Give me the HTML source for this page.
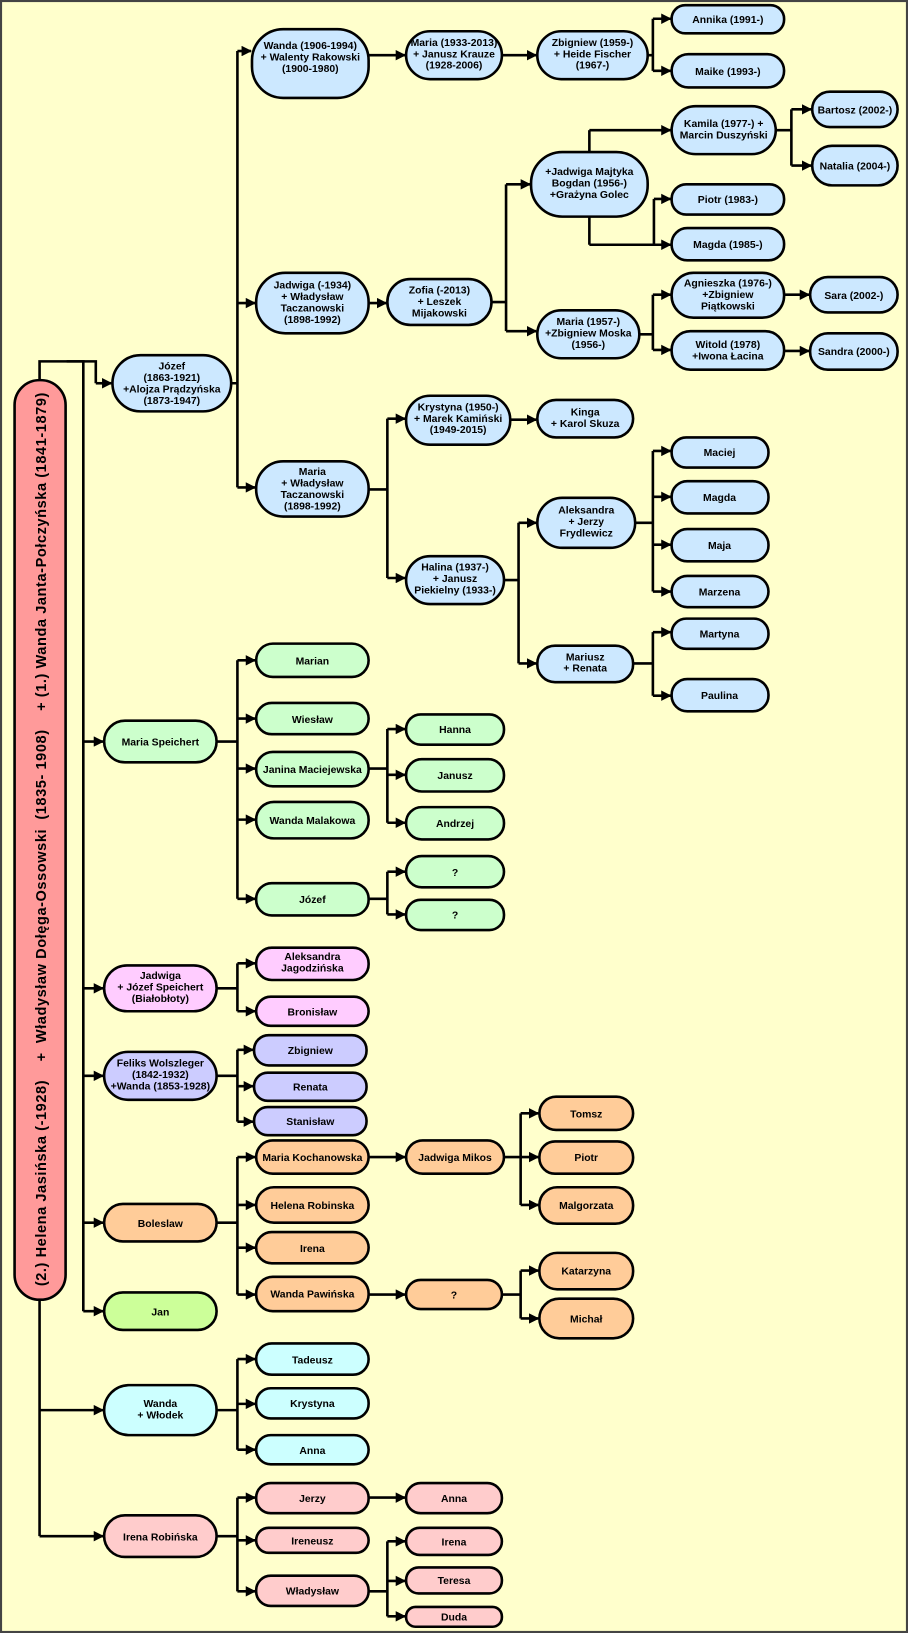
<!DOCTYPE html>
<html><head><meta charset="utf-8"><style>
html,body{margin:0;padding:0;background:#fff}
svg{display:block}
text{font-family:"Liberation Sans",Arial,sans-serif;font-weight:bold;font-size:10px;text-anchor:middle;fill:#000}
.n{stroke:#000;stroke-width:2.5}
.c{fill:none;stroke:#000;stroke-width:2.5}
.a{fill:none;stroke:#000;stroke-width:2.5;marker-end:url(#ar)}
.b{fill:#cce8ff}.g{fill:#ccffcc}.p{fill:#ffccff}.v{fill:#ccccff}.o{fill:#ffcc99}.l{fill:#ccff99}.cy{fill:#ccffff}.r{fill:#ffcccc}
</style></head><body>
<svg width="908" height="1633" viewBox="0 0 872 1568" preserveAspectRatio="none" xmlns="http://www.w3.org/2000/svg">
<defs><marker id="ar" markerUnits="userSpaceOnUse" markerWidth="10" markerHeight="10" refX="9" refY="5" orient="auto"><path d="M0,0 L10,5 L0,10 z" fill="#000"/></marker></defs>
<rect x="1" y="1" width="870" height="1566" fill="#ffffcc" stroke="#444" stroke-width="2"/>

<path class="c" d="M38,365 V347 H92 V368"/><path class="a" d="M92,368 H107"/>
<path class="c" d="M64,347 H80 V1259"/>
<path class="a" d="M80,712 H99"/><path class="a" d="M80,949 H99"/><path class="a" d="M80,1033 H99"/><path class="a" d="M80,1174 H99"/><path class="a" d="M80,1259 H99"/>
<path class="c" d="M38,1248 V1475"/><path class="a" d="M38,1354 H99"/><path class="a" d="M38,1475 H99"/>

<path class="c" d="M222,368 H228 M228,49 V468"/>
<path class="a" d="M228,49 H241"/><path class="a" d="M228,291 H245"/><path class="a" d="M228,468 H245"/>
<path class="a" d="M354,53 H389"/><path class="a" d="M482,53 H515"/>
<path class="c" d="M622,53 H627 M627,18 V68"/><path class="a" d="M627,18 H644"/><path class="a" d="M627,68 H644"/>
<path class="a" d="M354,291 H371"/>
<path class="c" d="M472,290 H486 M486,177 V318"/><path class="a" d="M486,177 H509"/><path class="a" d="M486,318 H515"/>
<path class="c" d="M566,146 V125"/><path class="a" d="M566,125 H644"/>
<path class="c" d="M745,125 H760 M760,105 V159"/><path class="a" d="M760,105 H779"/><path class="a" d="M760,159 H779"/>
<path class="c" d="M566,208 V235"/><path class="a" d="M566,235 H644"/>
<path class="c" d="M628,235 V191"/><path class="a" d="M628,191 H644"/>
<path class="c" d="M614,321 H627 M627,283 V336"/><path class="a" d="M627,283 H644"/><path class="a" d="M627,336 H644"/>
<path class="a" d="M753,283 H777"/><path class="a" d="M753,337 H777"/>
<path class="c" d="M354,470 H372 M372,402 V555"/><path class="a" d="M372,402 H389"/><path class="a" d="M372,555 H389"/>
<path class="a" d="M490,403 H515"/>
<path class="c" d="M484,557 H498 M498,502 V637"/><path class="a" d="M498,502 H515"/><path class="a" d="M498,637 H515"/>
<path class="c" d="M610,502 H627 M627,433 V568"/><path class="a" d="M627,433 H644"/><path class="a" d="M627,477 H644"/><path class="a" d="M627,523 H644"/><path class="a" d="M627,568 H644"/>
<path class="c" d="M608,637 H627 M627,607 V668"/><path class="a" d="M627,607 H644"/><path class="a" d="M627,668 H644"/>

<path class="c" d="M208,712 H228 M228,634 V863"/>
<path class="a" d="M228,634 H245"/><path class="a" d="M228,690 H245"/><path class="a" d="M228,738 H245"/><path class="a" d="M228,787 H245"/><path class="a" d="M228,863 H245"/>
<path class="c" d="M354,738 H372 M372,700 V790"/><path class="a" d="M372,700 H389"/><path class="a" d="M372,744 H389"/><path class="a" d="M372,790 H389"/>
<path class="c" d="M354,863 H372 M372,837 V878"/><path class="a" d="M372,837 H389"/><path class="a" d="M372,878 H389"/>

<path class="c" d="M208,949 H228 M228,925 V971"/><path class="a" d="M228,925 H245"/><path class="a" d="M228,971 H245"/>
<path class="c" d="M208,1033 H228 M228,1008 V1077"/><path class="a" d="M228,1008 H243"/><path class="a" d="M228,1043 H243"/><path class="a" d="M228,1077 H243"/>
<path class="c" d="M208,1174 H228 M228,1111 V1243"/><path class="a" d="M228,1111 H245"/><path class="a" d="M228,1157 H245"/><path class="a" d="M228,1198 H245"/><path class="a" d="M228,1243 H245"/>
<path class="a" d="M354,1111 H389"/>
<path class="c" d="M484,1111 H500 M500,1069 V1157"/><path class="a" d="M500,1069 H517"/><path class="a" d="M500,1111 H517"/><path class="a" d="M500,1157 H517"/>
<path class="a" d="M354,1243 H389"/>
<path class="c" d="M482,1243 H500 M500,1220 V1266"/><path class="a" d="M500,1220 H517"/><path class="a" d="M500,1266 H517"/>
<path class="c" d="M208,1354 H228 M228,1305 V1392"/><path class="a" d="M228,1305 H245"/><path class="a" d="M228,1348 H245"/><path class="a" d="M228,1392 H245"/>
<path class="c" d="M208,1475 H228 M228,1438 V1528"/><path class="a" d="M228,1438 H245"/><path class="a" d="M228,1479 H245"/><path class="a" d="M228,1528 H245"/>
<path class="a" d="M354,1438 H389"/>
<path class="c" d="M354,1528 H372 M372,1480 V1552"/><path class="a" d="M372,1480 H389"/><path class="a" d="M372,1518 H389"/><path class="a" d="M372,1552 H389"/>

<rect class="n" x="14" y="365" width="49" height="883" rx="24" fill="#ff9a9a"/>
<text transform="translate(44,806) rotate(-90)" style="font-size:14px" xml:space="preserve" textLength="858" lengthAdjust="spacing">(2.) Helena Jasińska (-1928)    +  Władysław Dołęga-Ossowski  (1835- 1908)    + (1.) Wanda Janta-Połczyńska (1841-1879)</text>

<rect class="n b" x="108" y="341" width="114" height="54" rx="27"/><text x="165" y="355">Józef<tspan x="165" dy="11">(1863-1921)</tspan><tspan x="165" dy="11">+Alojza Prądzyńska</tspan><tspan x="165" dy="11">(1873-1947)</tspan></text>
<rect class="n g" x="100" y="692" width="108" height="40" rx="20"/><text x="154" y="716">Maria Speichert</text>
<rect class="n p" x="100" y="927" width="108" height="44" rx="22"/><text x="154" y="940">Jadwiga<tspan x="154" dy="11">+ Józef Speichert</tspan><tspan x="154" dy="11">(Białobłoty)</tspan></text>
<rect class="n v" x="100" y="1010" width="108" height="46" rx="23"/><text x="154" y="1024">Feliks Wolszleger<tspan x="154" dy="11">(1842-1932)</tspan><tspan x="154" dy="11">+Wanda (1853-1928)</tspan></text>
<rect class="n o" x="100" y="1156" width="108" height="36" rx="18"/><text x="154" y="1178">Boleslaw</text>
<rect class="n l" x="100" y="1241" width="108" height="36" rx="18"/><text x="154" y="1263">Jan</text>
<rect class="n cy" x="100" y="1330" width="108" height="48" rx="24"/><text x="154" y="1351">Wanda<tspan x="154" dy="11">+ Włodek</tspan></text>
<rect class="n r" x="100" y="1455" width="108" height="40" rx="20"/><text x="154" y="1479">Irena Robińska</text>

<rect class="n b" x="242" y="28" width="112" height="66" rx="30"/><text x="298" y="47">Wanda (1906-1994)<tspan x="298" dy="11">+ Walenty Rakowski</tspan><tspan x="298" dy="11">(1900-1980)</tspan></text>
<rect class="n b" x="246" y="262" width="108" height="58" rx="28"/><text x="300" y="277">Jadwiga (-1934)<tspan x="300" dy="11">+ Władysław</tspan><tspan x="300" dy="11">Taczanowski</tspan><tspan x="300" dy="11">(1898-1992)</tspan></text>
<rect class="n b" x="246" y="443" width="108" height="53" rx="26"/><text x="300" y="456">Maria<tspan x="300" dy="11">+ Władysław</tspan><tspan x="300" dy="11">Taczanowski</tspan><tspan x="300" dy="11">(1898-1992)</tspan></text>
<rect class="n b" x="390" y="30" width="92" height="46" rx="23"/><text x="436" y="44">Maria (1933-2013)<tspan x="436" dy="11">+ Janusz Krauze</tspan><tspan x="436" dy="11">(1928-2006)</tspan></text>
<rect class="n b" x="516" y="30" width="106" height="46" rx="23"/><text x="569" y="44">Zbigniew (1959-)<tspan x="569" dy="11">+ Heide Fischer</tspan><tspan x="569" dy="11">(1967-)</tspan></text>
<rect class="n b" x="645" y="5" width="108" height="27" rx="13"/><text x="699" y="22">Annika (1991-)</text>
<rect class="n b" x="645" y="52" width="108" height="32" rx="16"/><text x="699" y="72">Maike (1993-)</text>
<rect class="n b" x="372" y="268" width="100" height="44" rx="22"/><text x="422" y="282">Zofia (-2013)<tspan x="422" dy="11">+ Leszek</tspan><tspan x="422" dy="11">Mijakowski</tspan></text>
<rect class="n b" x="510" y="146" width="112" height="62" rx="30"/><text x="566" y="168">+Jadwiga Majtyka<tspan x="566" dy="11">Bogdan (1956-)</tspan><tspan x="566" dy="11">+Grażyna Golec</tspan></text>
<rect class="n b" x="516" y="298" width="98" height="46" rx="23"/><text x="565" y="312">Maria (1957-)<tspan x="565" dy="11">+Zbigniew Moska</tspan><tspan x="565" dy="11">(1956-)</tspan></text>
<rect class="n b" x="645" y="102" width="100" height="46" rx="23"/><text x="695" y="122">Kamila (1977-) +<tspan x="695" dy="11">Marcin Duszyński</tspan></text>
<rect class="n b" x="780" y="88" width="82" height="34" rx="17"/><text x="821" y="109">Bartosz (2002-)</text>
<rect class="n b" x="780" y="140" width="82" height="38" rx="19"/><text x="821" y="163">Natalia (2004-)</text>
<rect class="n b" x="645" y="177" width="108" height="29" rx="14"/><text x="699" y="195">Piotr (1983-)</text>
<rect class="n b" x="645" y="219" width="108" height="31" rx="15"/><text x="699" y="238">Magda (1985-)</text>
<rect class="n b" x="645" y="262" width="108" height="43" rx="21"/><text x="699" y="275">Agnieszka (1976-)<tspan x="699" dy="11">+Zbigniew</tspan><tspan x="699" dy="11">Piątkowski</tspan></text>
<rect class="n b" x="645" y="318" width="108" height="37" rx="18"/><text x="699" y="334">Witold (1978)<tspan x="699" dy="11">+Iwona Łacina</tspan></text>
<rect class="n b" x="778" y="266" width="84" height="34" rx="17"/><text x="820" y="287">Sara (2002-)</text>
<rect class="n b" x="778" y="320" width="84" height="35" rx="17"/><text x="820" y="341">Sandra (2000-)</text>
<rect class="n b" x="390" y="380" width="100" height="47" rx="23"/><text x="440" y="394">Krystyna (1950-)<tspan x="440" dy="11">+ Marek Kamiński</tspan><tspan x="440" dy="11">(1949-2015)</tspan></text>
<rect class="n b" x="516" y="384" width="92" height="36" rx="18"/><text x="562" y="399">Kinga<tspan x="562" dy="11">+ Karol Skuza</tspan></text>
<rect class="n b" x="390" y="534" width="94" height="46" rx="23"/><text x="437" y="548">Halina (1937-)<tspan x="437" dy="11">+ Janusz</tspan><tspan x="437" dy="11">Piekielny (1933-)</tspan></text>
<rect class="n b" x="516" y="478" width="94" height="48" rx="24"/><text x="563" y="493">Aleksandra<tspan x="563" dy="11">+ Jerzy</tspan><tspan x="563" dy="11">Frydlewicz</tspan></text>
<rect class="n b" x="516" y="620" width="92" height="35" rx="17"/><text x="562" y="634">Mariusz<tspan x="562" dy="11">+ Renata</tspan></text>
<rect class="n b" x="645" y="420" width="93" height="29" rx="14"/><text x="691" y="438">Maciej</text>
<rect class="n b" x="645" y="462" width="93" height="31" rx="15"/><text x="691" y="481">Magda</text>
<rect class="n b" x="645" y="508" width="93" height="31" rx="15"/><text x="691" y="527">Maja</text>
<rect class="n b" x="645" y="553" width="93" height="30" rx="15"/><text x="691" y="572">Marzena</text>
<rect class="n b" x="645" y="594" width="93" height="29" rx="14"/><text x="691" y="612">Martyna</text>
<rect class="n b" x="645" y="652" width="93" height="31" rx="15"/><text x="691" y="671">Paulina</text>

<rect class="n g" x="246" y="618" width="108" height="32" rx="16"/><text x="300" y="638">Marian</text>
<rect class="n g" x="246" y="675" width="108" height="30" rx="15"/><text x="300" y="694">Wiesław</text>
<rect class="n g" x="246" y="722" width="108" height="33" rx="16"/><text x="300" y="742">Janina Maciejewska</text>
<rect class="n g" x="246" y="770" width="108" height="35" rx="17"/><text x="300" y="791">Wanda Malakowa</text>
<rect class="n g" x="246" y="848" width="108" height="31" rx="15"/><text x="300" y="867">Józef</text>
<rect class="n g" x="390" y="686" width="94" height="29" rx="14"/><text x="437" y="704">Hanna</text>
<rect class="n g" x="390" y="729" width="94" height="31" rx="15"/><text x="437" y="748">Janusz</text>
<rect class="n g" x="390" y="775" width="94" height="31" rx="15"/><text x="437" y="794">Andrzej</text>
<rect class="n g" x="390" y="822" width="94" height="30" rx="15"/><text x="437" y="841">?</text>
<rect class="n g" x="390" y="864" width="94" height="29" rx="14"/><text x="437" y="882">?</text>

<rect class="n p" x="246" y="910" width="108" height="31" rx="15"/><text x="300" y="922">Aleksandra<tspan x="300" dy="11">Jagodzińska</tspan></text>
<rect class="n p" x="246" y="957" width="108" height="28" rx="14"/><text x="300" y="975">Bronisław</text>
<rect class="n v" x="244" y="994" width="108" height="29" rx="14"/><text x="298" y="1012">Zbigniew</text>
<rect class="n v" x="244" y="1030" width="108" height="27" rx="13"/><text x="298" y="1047">Renata</text>
<rect class="n v" x="244" y="1063" width="108" height="27" rx="13"/><text x="298" y="1080">Stanisław</text>
<rect class="n o" x="246" y="1095" width="108" height="32" rx="16"/><text x="300" y="1115">Maria Kochanowska</text>
<rect class="n o" x="246" y="1140" width="108" height="34" rx="17"/><text x="300" y="1161">Helena Robinska</text>
<rect class="n o" x="246" y="1183" width="108" height="30" rx="15"/><text x="300" y="1202">Irena</text>
<rect class="n o" x="246" y="1226" width="108" height="33" rx="16"/><text x="300" y="1246">Wanda Pawińska</text>
<rect class="n o" x="390" y="1095" width="94" height="32" rx="16"/><text x="437" y="1115">Jadwiga Mikos</text>
<rect class="n o" x="518" y="1053" width="90" height="32" rx="16"/><text x="563" y="1073">Tomsz</text>
<rect class="n o" x="518" y="1096" width="90" height="31" rx="15"/><text x="563" y="1115">Piotr</text>
<rect class="n o" x="518" y="1140" width="90" height="35" rx="17"/><text x="563" y="1161">Malgorzata</text>
<rect class="n o" x="390" y="1229" width="92" height="28" rx="14"/><text x="436" y="1247">?</text>
<rect class="n o" x="518" y="1203" width="90" height="35" rx="17"/><text x="563" y="1224">Katarzyna</text>
<rect class="n o" x="518" y="1247" width="90" height="38" rx="19"/><text x="563" y="1270">Michał</text>
<rect class="n cy" x="246" y="1290" width="108" height="30" rx="15"/><text x="300" y="1309">Tadeusz</text>
<rect class="n cy" x="246" y="1333" width="108" height="29" rx="14"/><text x="300" y="1351">Krystyna</text>
<rect class="n cy" x="246" y="1378" width="108" height="28" rx="14"/><text x="300" y="1396">Anna</text>
<rect class="n r" x="246" y="1424" width="108" height="29" rx="14"/><text x="300" y="1442">Jerzy</text>
<rect class="n r" x="246" y="1467" width="108" height="24" rx="12"/><text x="300" y="1483">Ireneusz</text>
<rect class="n r" x="246" y="1513" width="108" height="29" rx="14"/><text x="300" y="1531">Władysław</text>
<rect class="n r" x="390" y="1424" width="92" height="29" rx="14"/><text x="436" y="1442">Anna</text>
<rect class="n r" x="390" y="1467" width="92" height="26" rx="13"/><text x="436" y="1484">Irena</text>
<rect class="n r" x="390" y="1505" width="92" height="25" rx="12"/><text x="436" y="1521">Teresa</text>
<rect class="n r" x="390" y="1543" width="92" height="19" rx="9"/><text x="436" y="1556">Duda</text>
</svg>
</body></html>
